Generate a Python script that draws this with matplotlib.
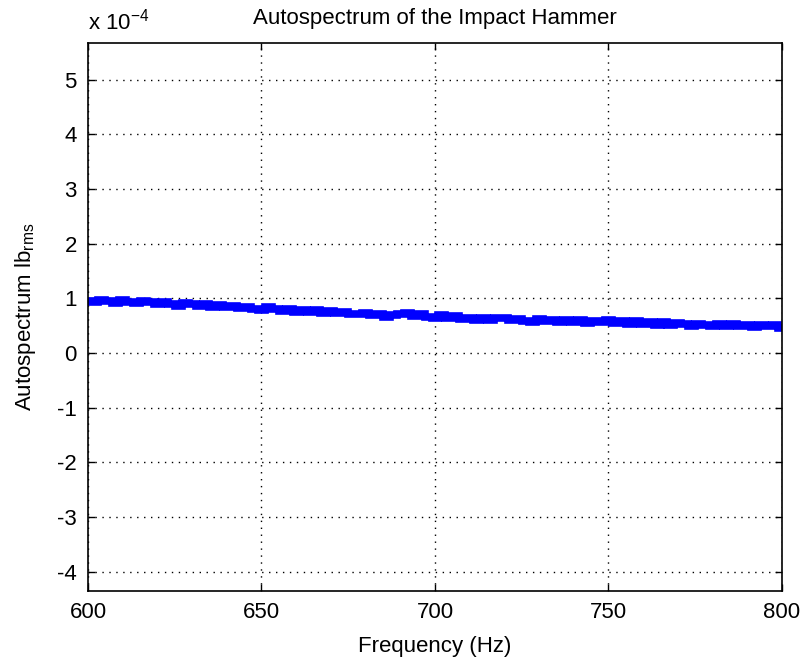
import matplotlib
matplotlib.use("Agg")
import matplotlib.pyplot as plt

# frequency grid (Hz) and autospectrum (units of 1e-4 lb_rms)
freq = list(range(600, 801, 2))
spec = [
    0.96, 0.93, 0.98, 0.95, 0.92, 0.97, 0.94, 0.91, 0.96, 0.93,
    0.90, 0.94, 0.89, 0.87, 0.92, 0.89, 0.86, 0.89, 0.85, 0.88,
    0.84, 0.87, 0.82, 0.85, 0.81, 0.79, 0.84, 0.80, 0.77, 0.80,
    0.76, 0.79, 0.75, 0.78, 0.74, 0.77, 0.73, 0.76, 0.72, 0.71,
    0.74, 0.69, 0.72, 0.66, 0.69, 0.72, 0.73, 0.67, 0.71, 0.66,
    0.65, 0.69, 0.64, 0.67, 0.62, 0.65, 0.61, 0.65, 0.60, 0.64,
    0.65, 0.60, 0.63, 0.59, 0.57, 0.62, 0.58, 0.61, 0.57, 0.60,
    0.56, 0.60, 0.55, 0.59, 0.56, 0.60, 0.55, 0.59, 0.54, 0.58,
    0.54, 0.57, 0.52, 0.56, 0.51, 0.55, 0.53, 0.50, 0.54, 0.52,
    0.49, 0.53, 0.50, 0.54, 0.49, 0.52, 0.48, 0.52, 0.50, 0.51,
    0.46,
]
xticks = [600, 650, 700, 750, 800]
yticks = [-4, -3, -2, -1, 0, 1, 2, 3, 4, 5]

plt.rcParams['font.family'] = ['Liberation Sans', 'DejaVu Sans']
plt.rcParams['mathtext.fontset'] = 'custom'
plt.rcParams['mathtext.rm'] = 'Liberation Sans'
plt.rcParams['mathtext.it'] = 'Liberation Sans'
plt.rcParams['axes.unicode_minus'] = False

fig = plt.figure(figsize=(8.03, 6.63), dpi=100)
ax = fig.add_axes([0.1096, 0.1086, 0.8642, 0.8265])

ax.plot(freq, spec, color='#0000ff', linewidth=5.5, drawstyle='steps-mid',
        solid_joinstyle='miter')

ax.set_xlim(600, 800)
ax.set_ylim(-4.35, 5.67)
ax.set_xticks(xticks)
ax.set_yticks(yticks)
ax.tick_params(direction='in', top=True, right=True, length=5, width=1,
               labelsize=16, colors='black', pad=8)
for s in ax.spines.values():
    s.set_linewidth(1.2)
ax.grid(True, color='black', linestyle=(0, (1, 4)), linewidth=1)

ax.text(0.0, 1.015, 'x 10$^{-4}$', transform=ax.transAxes, fontsize=16,
        ha='left', va='bottom')
ax.set_title('Autospectrum of the Impact Hammer', fontsize=16, pad=14)
ax.set_xlabel('Frequency (Hz)', fontsize=16, labelpad=9)
ax.set_ylabel('Autospectrum lb$_{\\mathrm{rms}}$', fontsize=16, labelpad=14)

fig.savefig('out.png', dpi=100)
